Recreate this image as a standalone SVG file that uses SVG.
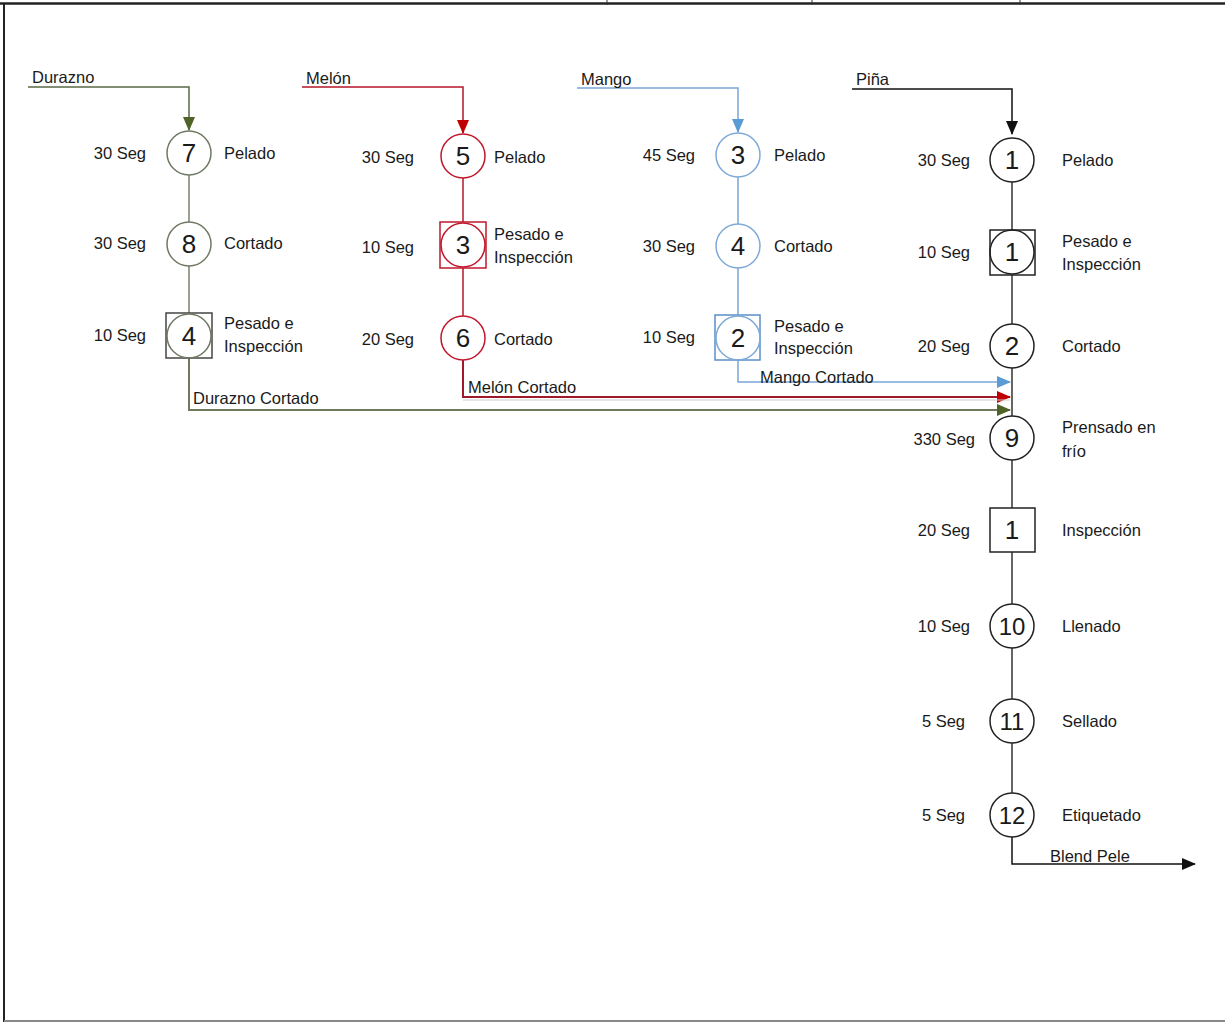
<svg xmlns="http://www.w3.org/2000/svg" width="1225" height="1024" viewBox="0 0 1225 1024">
<style>
text{font-family:"Liberation Sans",Arial,sans-serif;font-size:16.5px;fill:#1a1a1a}
.num{font-size:26px;text-anchor:middle;dominant-baseline:central}
.t{text-anchor:end;dominant-baseline:central}
.l{dominant-baseline:central}
.op{fill:#fff;stroke-width:1.5}
.g{stroke:#6f7a63}
.r{stroke:#c0182c}
.b{stroke:#7fa9d8}
.k{stroke:#222}
.cg{stroke:#77806c;stroke-width:1.5;fill:none}
.cr{stroke:#b5172a;stroke-width:1.5;fill:none}
.cb{stroke:#78a6d6;stroke-width:1.5;fill:none}
.ck{stroke:#555;stroke-width:1.8;fill:none}
</style>
<defs>
<marker id="ag" markerUnits="userSpaceOnUse" markerWidth="14" markerHeight="12" refX="13" refY="6" orient="auto"><path d="M0,0 L14,6 L0,12 z" fill="#4f6228"/></marker>
<marker id="ar" markerUnits="userSpaceOnUse" markerWidth="14" markerHeight="12" refX="13" refY="6" orient="auto"><path d="M0,0 L14,6 L0,12 z" fill="#c00000"/></marker>
<marker id="ab" markerUnits="userSpaceOnUse" markerWidth="14" markerHeight="12" refX="13" refY="6" orient="auto"><path d="M0,0 L14,6 L0,12 z" fill="#5b9bd5"/></marker>
<marker id="ak" markerUnits="userSpaceOnUse" markerWidth="14" markerHeight="12" refX="13" refY="6" orient="auto"><path d="M0,0 L14,6 L0,12 z" fill="#111"/></marker>
</defs>
<rect width="1225" height="1024" fill="#fff"/>
<g id="frame">
<line x1="0" y1="3.5" x2="1225" y2="3.5" stroke="#222" stroke-width="2.5"/>
<line x1="4" y1="3" x2="4" y2="1022" stroke="#222" stroke-width="2"/>
<line x1="4" y1="1021" x2="1225" y2="1021" stroke="#888" stroke-width="2"/>
<line x1="607" y1="0" x2="607" y2="5" stroke="#333" stroke-width="1"/>
<line x1="812" y1="0" x2="812" y2="5" stroke="#333" stroke-width="1"/>
<line x1="1020" y1="0" x2="1020" y2="5" stroke="#333" stroke-width="1"/>
</g>
<g id="connectors">
<path class="cg" d="M28,87 H189 V130" style="stroke:#5a6a45" marker-end="url(#ag)"/>
<line class="cg" x1="189" y1="175" x2="189" y2="222"/>
<line class="cg" x1="189" y1="266" x2="189" y2="313"/>
<path class="cg" d="M189,358 V410 H1010" style="stroke:#6f7a5a;stroke-width:2" marker-end="url(#ag)"/>
<path class="cr" d="M302,87 H463 V133" marker-end="url(#ar)"/>
<line class="cr" x1="463" y1="178" x2="463" y2="222"/>
<line class="cr" x1="463" y1="268" x2="463" y2="316"/>
<path class="cr" d="M463,360 V397 H1010" style="stroke:#a0182a;stroke-width:2" marker-end="url(#ar)"/>
<line x1="463" y1="400" x2="1010" y2="400" stroke="#ccc" stroke-width="1"/>
<path class="cb" d="M577,88 H738 V132" marker-end="url(#ab)"/>
<line class="cb" x1="738" y1="177" x2="738" y2="224"/>
<line class="cb" x1="738" y1="268" x2="738" y2="315"/>
<path class="cb" d="M738,360 V382 H1010" marker-end="url(#ab)"/>
<path d="M852,89 H1012 V134" fill="none" stroke="#111" stroke-width="1.5" marker-end="url(#ak)"/>
<line class="ck" x1="1012" y1="182" x2="1012" y2="230"/>
<line class="ck" x1="1012" y1="275" x2="1012" y2="324"/>
<line class="ck" x1="1012" y1="368" x2="1012" y2="416"/>
<line class="ck" x1="1012" y1="460" x2="1012" y2="508"/>
<line class="ck" x1="1012" y1="552" x2="1012" y2="604"/>
<line class="ck" x1="1012" y1="648" x2="1012" y2="699"/>
<line class="ck" x1="1012" y1="743" x2="1012" y2="793"/>
<path d="M1012,837 V864 H1195" fill="none" stroke="#111" stroke-width="1.5" marker-end="url(#ak)"/>
</g>
<g id="labels">
<text x="32" y="83">Durazno</text>
<text x="306" y="84">Melón</text>
<text x="581" y="85">Mango</text>
<text x="856" y="85">Piña</text>
<text x="193" y="404">Durazno Cortado</text>
<text x="468" y="393">Melón Cortado</text>
<text x="760" y="383">Mango Cortado</text>
<text x="1050" y="862">Blend Pele</text>
</g>
<g id="d7"><circle class="op g" cx="189" cy="153" r="22"/><text class="num" x="189" y="153">7</text><text class="t" x="146" y="153">30 Seg</text><text class="l" x="224" y="153">Pelado</text></g>
<g id="d8"><circle class="op g" cx="189" cy="244" r="22"/><text class="num" x="189" y="244">8</text><text class="t" x="146" y="243">30 Seg</text><text class="l" x="224" y="243">Cortado</text></g>
<g id="d4"><rect class="op g" x="166" y="313" width="46" height="45" style="stroke:#444"/><circle class="op g" cx="189" cy="336" r="22" style="fill:none"/><text class="num" x="189" y="336">4</text><text class="t" x="146" y="335">10 Seg</text><text class="l" x="224" y="323">Pesado e</text><text class="l" x="224" y="346">Inspección</text></g>
<g id="m5"><circle class="op r" cx="463" cy="156" r="22"/><text class="num" x="463" y="156">5</text><text class="t" x="414" y="157">30 Seg</text><text class="l" x="494" y="157">Pelado</text></g>
<g id="m3"><rect class="op r" x="440" y="222" width="46" height="46"/><circle class="op r" cx="463" cy="245" r="22" style="fill:none"/><text class="num" x="463" y="245">3</text><text class="t" x="414" y="247">10 Seg</text><text class="l" x="494" y="234">Pesado e</text><text class="l" x="494" y="257">Inspección</text></g>
<g id="m6"><circle class="op r" cx="463" cy="338" r="22"/><text class="num" x="463" y="338">6</text><text class="t" x="414" y="339">20 Seg</text><text class="l" x="494" y="339">Cortado</text></g>
<g id="g3"><circle class="op b" cx="738" cy="155" r="22"/><text class="num" x="738" y="155">3</text><text class="t" x="695" y="155">45 Seg</text><text class="l" x="774" y="155">Pelado</text></g>
<g id="g4"><circle class="op b" cx="738" cy="246" r="22"/><text class="num" x="738" y="246">4</text><text class="t" x="695" y="246">30 Seg</text><text class="l" x="774" y="246">Cortado</text></g>
<g id="g2"><rect class="op b" x="715" y="315" width="45" height="45" style="stroke:#5b8fc8"/><circle class="op b" cx="738" cy="338" r="22" style="fill:none"/><text class="num" x="738" y="338">2</text><text class="t" x="695" y="337">10 Seg</text><text class="l" x="774" y="326">Pesado e</text><text class="l" x="774" y="348">Inspección</text></g>
<g id="p1"><circle class="op k" cx="1012" cy="160" r="22"/><text class="num" x="1012" y="160">1</text><text class="t" x="970" y="160">30 Seg</text><text class="l" x="1062" y="160">Pelado</text></g>
<g id="p1b"><rect class="op k" x="990" y="230" width="45" height="45"/><circle class="op k" cx="1012" cy="252" r="22" style="fill:none"/><text class="num" x="1012" y="252">1</text><text class="t" x="970" y="252">10 Seg</text><text class="l" x="1062" y="241">Pesado e</text><text class="l" x="1062" y="264">Inspección</text></g>
<g id="p2"><circle class="op k" cx="1012" cy="346" r="22"/><text class="num" x="1012" y="346">2</text><text class="t" x="970" y="346">20 Seg</text><text class="l" x="1062" y="346">Cortado</text></g>
<g id="p9"><circle class="op k" cx="1012" cy="438" r="22"/><text class="num" x="1012" y="438">9</text><text class="t" x="975" y="439">330 Seg</text><text class="l" x="1062" y="427">Prensado en</text><text class="l" x="1062" y="451">frío</text></g>
<g id="pi1"><rect class="op k" x="990" y="508" width="45" height="44"/><text class="num" x="1012" y="530">1</text><text class="t" x="970" y="530">20 Seg</text><text class="l" x="1062" y="530">Inspección</text></g>
<g id="p10"><circle class="op k" cx="1012" cy="626" r="22"/><text class="num" x="1012" y="626" style="font-size:24px">10</text><text class="t" x="970" y="626">10 Seg</text><text class="l" x="1062" y="626">Llenado</text></g>
<g id="p11"><circle class="op k" cx="1012" cy="721" r="22"/><text class="num" x="1012" y="721" style="font-size:24px">11</text><text class="t" x="965" y="721">5 Seg</text><text class="l" x="1062" y="721">Sellado</text></g>
<g id="p12"><circle class="op k" cx="1012" cy="815" r="22"/><text class="num" x="1012" y="815" style="font-size:24px">12</text><text class="t" x="965" y="815">5 Seg</text><text class="l" x="1062" y="815">Etiquetado</text></g>
</svg>
